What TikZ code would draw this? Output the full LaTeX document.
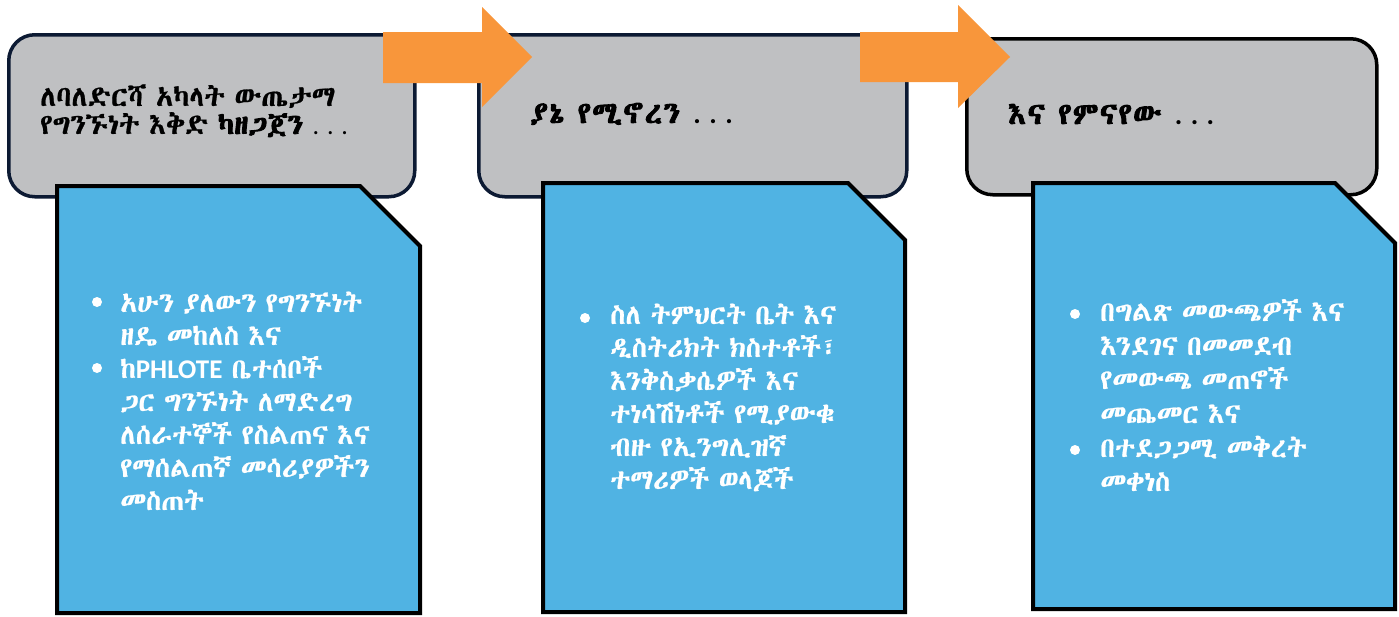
\documentclass[tikz,border=0pt]{standalone}
\usepackage{fontspec}
\newfontfamily\eth[WordSpace=0.75, UprightFeatures={FakeBold=0.8}, BoldFont={Abyssinica SIL}, BoldFeatures={FakeBold=3, LetterSpace=5, WordSpace=0.9}]{Abyssinica SIL}
\newfontfamily\ethbold[FakeBold=3]{Abyssinica SIL}
\newfontfamily\lat{Carlito}
\definecolor{greyfill}{RGB}{191,192,194}
\definecolor{navy}{RGB}{12,26,51}
\definecolor{bluefill}{RGB}{80,179,227}
\definecolor{orangefill}{RGB}{248,150,59}
\tikzset{
  greybox/.style={draw=navy, fill=greyfill, line width=3.5pt, rounded corners=26pt, inner sep=0pt, anchor=north west},
  bluebox/.style={draw=black, fill=bluefill, line width=4pt, line join=miter},
  orangearrow/.style={fill=orangefill, draw=none},
  title/.style={anchor=base west, inner sep=0pt, text=black, font=\eth\fontsize{28.5pt}{28pt}\selectfont},
  titlebold/.style={title, font=\eth\bfseries\fontsize{30pt}{30pt}\selectfont},
  bodyline/.style={anchor=base west, inner sep=0pt, text=white, font=\eth\fontsize{27.7pt}{33pt}\selectfont},
  bulletdot/.style={circle, fill=white, inner sep=0pt, minimum size=10pt},
}
\newcommand\dotsfont{\lat\bfseries\fontsize{28pt}{28pt}\selectfont}
\begin{document}
\begin{tikzpicture}[x=1pt,y=-1pt]
\useasboundingbox (0,0) rectangle (1399,616);
% grey header boxes
\node[greybox, minimum width=406pt, minimum height=162pt] (g1) at (7,33) {};
\node[greybox, minimum width=428pt, minimum height=162pt] (g2) at (477,33) {};
\node[greybox, draw=black, minimum width=410pt, minimum height=156pt] (g3) at (965,37) {};
% blue content boxes
\draw[bluebox] (57,186) -- (360,186) -- (420,246) -- (420,613) -- (57,613) -- cycle;
\draw[bluebox] (543,183) -- (848,183) -- (905,240) -- (905,612) -- (543,612) -- cycle;
\draw[bluebox] (1033,183) -- (1335,183) -- (1395,243) -- (1395,609) -- (1033,609) -- cycle;
% orange arrows
\fill[orangearrow] (383,32) -- (482,32) -- (482,7) -- (532,57) -- (482,107) -- (482,83) -- (383,83) -- cycle;
\fill[orangearrow] (860,32) -- (958,32) -- (958,5) -- (1010,57) -- (958,108) -- (958,82) -- (860,82) -- cycle;
% titles
\node[title] (t1a) at (40,106) {ለባለድርሻ አካላት ውጤታማ};
\node[title] (t1b) at (40,134) {የግንኙነት እቅድ {\ethbold\fontsize{28.5pt}{28pt}\selectfont ካዘጋጀን} {\lat\fontsize{26pt}{26pt}\selectfont . . .}};
\node[titlebold] (t2) at (530,123) {ያኔ የሚኖረን {\dotsfont . . .}};
\node[titlebold] (t3) at (1008,124) {እና የምናየው {\dotsfont . . .}};
% box 1
\node[bulletdot] (b11) at (97,302) {};
\node[bulletdot] (b12) at (97,368) {};
\node[bodyline] (l11) at (120,312) {አሁን ያለውን የግንኙነት};
\node[bodyline] (l12) at (120,345) {ዘዴ መከለስ እና};
\node[bodyline] (l13) at (120,378) {ከ{\lat\bfseries\fontsize{27pt}{27pt}\selectfont PHLOTE} ቤተሰቦች};
\node[bodyline] (l14) at (120,411) {ጋር ግንኙነት ለማድረግ};
\node[bodyline] (l15) at (120,444) {ለሰራተኞች የስልጠና እና};
\node[bodyline] (l16) at (120,477) {የማሰልጠኛ መሳሪያዎችን};
\node[bodyline] (l17) at (120,510) {መስጠት};
% box 2
\node[bulletdot] (b21) at (585,318) {};
\node[bodyline] (l21) at (610,324) {ስለ ትምህርት ቤት እና};
\node[bodyline] (l22) at (610,357) {ዲስትሪክት ክስተቶች፣};
\node[bodyline] (l23) at (610,390) {እንቅስቃሴዎች እና};
\node[bodyline] (l24) at (610,423) {ተነሳሽነቶች የሚያውቁ};
\node[bodyline] (l25) at (610,456) {ብዙ የኢንግሊዝኛ};
\node[bodyline] (l26) at (610,489) {ተማሪዎች ወላጆች};
% box 3
\node[bulletdot] (b31) at (1075,314) {};
\node[bulletdot] (b32) at (1075,450) {};
\node[bodyline] (l31) at (1100,321) {በግልጽ መውጫዎች እና};
\node[bodyline] (l32) at (1100,355) {እንደገና በመመደብ};
\node[bodyline] (l33) at (1100,389) {የመውጫ መጠኖች};
\node[bodyline] (l34) at (1100,423) {መጨመር እና};
\node[bodyline] (l35) at (1100,457) {በተደጋጋሚ መቅረት};
\node[bodyline] (l36) at (1100,491) {መቀነስ};
\end{tikzpicture}
\end{document}
